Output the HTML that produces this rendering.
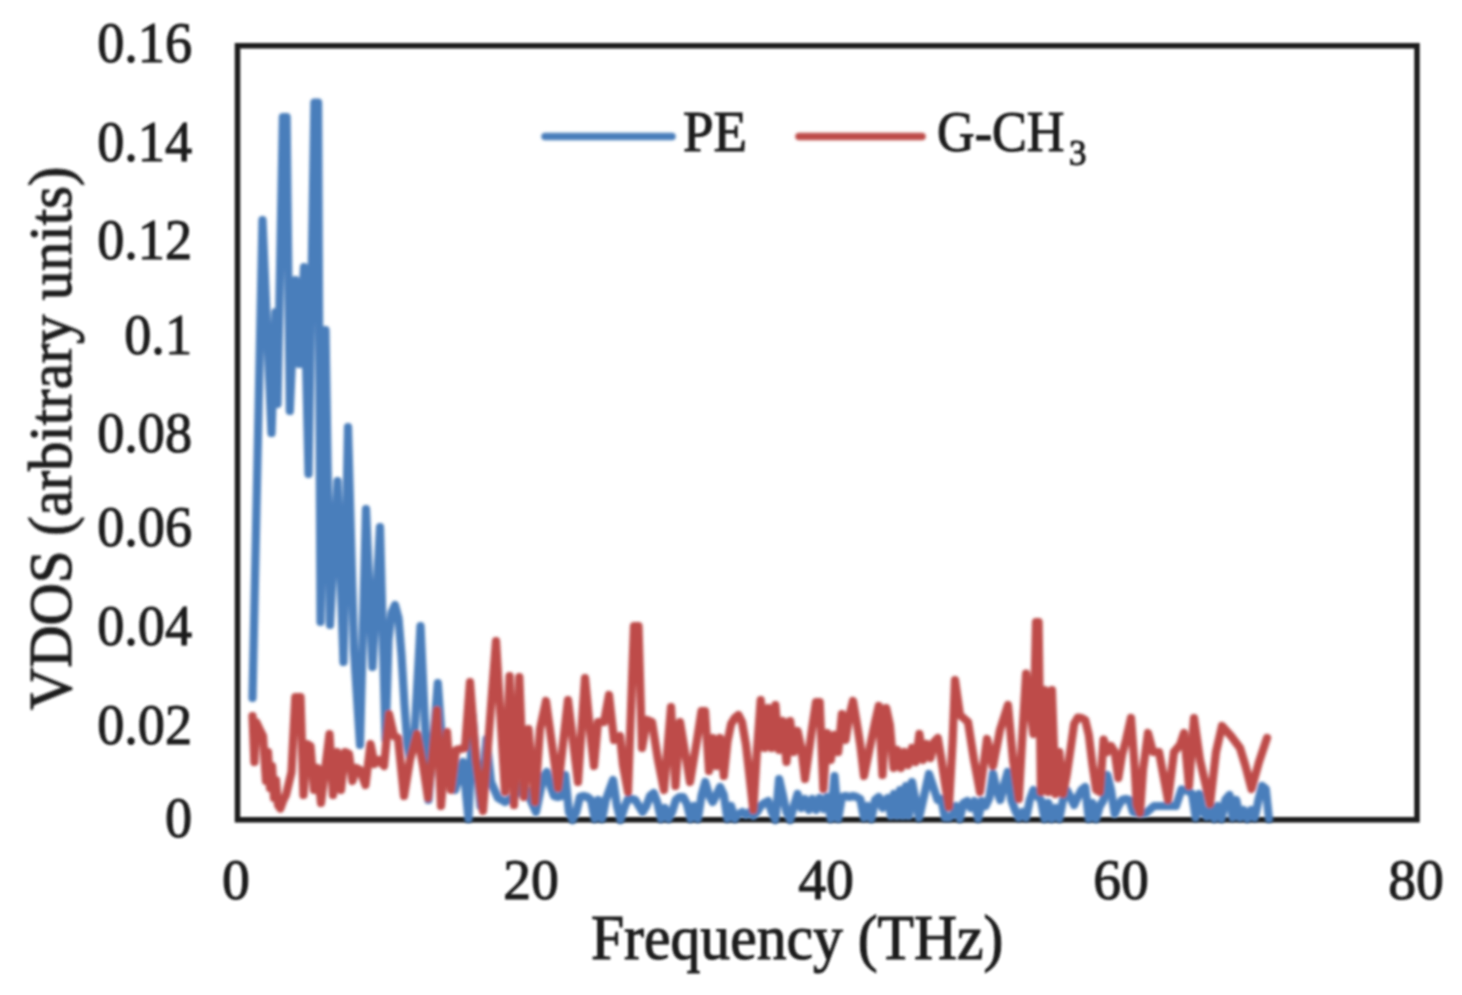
<!DOCTYPE html>
<html><head><meta charset="utf-8"><title>VDOS</title>
<style>
html,body{margin:0;padding:0;background:#fff;}
body{width:1462px;height:995px;overflow:hidden;}
svg{display:block;}
text{font-family:"Liberation Serif",serif;fill:#1c1c1c;stroke:#1c1c1c;stroke-width:1.1px;}
</style></head><body>
<svg width="1462" height="995" viewBox="0 0 1462 995">
<rect x="0" y="0" width="1462" height="995" fill="#ffffff"/>
<defs>
<filter id="fl" filterUnits="userSpaceOnUse" x="0" y="0" width="1462" height="995"><feGaussianBlur stdDeviation="1.6"/></filter>
<filter id="ft" filterUnits="userSpaceOnUse" x="0" y="0" width="1462" height="995"><feGaussianBlur stdDeviation="1.2"/></filter>
</defs>
<g filter="url(#ft)">
<rect x="237.5" y="45.75" width="1179.5" height="774" fill="none" stroke="#1a1a1a" stroke-width="5.5"/>
</g>
<g filter="url(#fl)">
<g fill="none" stroke-linejoin="round" stroke-linecap="round" stroke-width="8.2">
<polyline stroke="#4a7ebb" points="252.5,698 262.5,220 271.5,433 275.5,312 277.5,404 282.9,117 286.6,117 289.8,411 295.5,280 299.5,364 304,267 308.5,474 314.4,102.5 318.1,102.5 320.5,622 325.5,330 330,625 337.5,481 343.5,662 348,427 354,650 360,745 366,509 372.5,667 380,527 385.5,740 388.5,640 391.5,613 395,605 398.5,618 401.5,655 404.5,705 407.5,745 410,758 414.5,735 420.5,626 428.5,800 437.8,683 444,770 455,790 463,762 468.5,819 472.5,715 476.5,765 480.5,806 486.5,739 491,782 498,798 505,802 515,796 523,783 536,812 543.1,778 546.8,772 550.4,786 554.1,796 557.8,797 561.5,796 565.2,775 568.9,812 572.6,820 576.3,812 579.9,797 583.6,796 587.3,797 591,800 594.7,819 598.4,800 602.1,819 605.8,800 609.4,790 613.1,780 616.8,805 620.5,820 624.2,808 627.9,799 631.6,799 635.3,800 638.9,806 642.6,812 646.3,806 650,796 653.7,793 657.4,803 661.1,819 664.8,808 668.4,819 672.1,812 675.8,800 679.5,797 683.2,797 686.9,804 690.6,819 694.3,806 697.9,819 701.6,795 705.3,782 709,795 712.7,802 716.4,795 720.1,787 723.8,795 727.4,819 731.1,806 734.8,819 738.5,814 742.2,812 745.9,815 749.6,812 753.3,816 757,812 760.7,806 764.4,803 768.1,801 771.8,812 775.4,820 779.1,779 782.8,795 786.5,812 790.2,820 793.9,806 797.6,794 801.3,808 805,799 808.7,810 812.3,799 816,810 819.7,798 823.4,809 827.1,797 830.8,819 834.5,776 838.2,819 841.9,797 845.6,796 849.3,797 853,796 856.6,797 860.3,799 864,818 867.7,806 871.4,819 875.1,800 878.8,797 882.5,808 885.5,800 888,798 891,816 894,794 897,816 900,790 903,816 906,786 909,816 912,782 919,818 929,774 937.6,800 941.3,799 945,818 948.7,818 952.4,815 956.1,806 959.8,819 963.4,803 967.1,801 970.8,808 974.5,801 978.2,819 981.9,801 985.6,806 989.3,798 993,773.5 996.7,790 1000.3,800 1004,785 1007.7,772 1011.4,800 1015.1,810 1018.8,818 1022.4,812 1026.1,818 1029.8,800 1033.5,790 1037.2,796 1040.9,800 1044.6,819 1048.3,803 1051.9,819 1055.6,808 1059.3,819 1063,800 1066.7,790 1070.4,797 1074.1,805 1077.8,797 1081.5,790 1085.2,787 1088.8,819 1092.5,803 1096.2,819 1099.9,806 1103.6,800 1107.3,775 1111,790 1114.7,814 1118.3,806 1122,800 1125.7,799 1129.4,800 1133.1,812 1136.8,813 1140.5,814 1146,813 1154,806 1165,806 1176,806 1181.5,789.5 1188.4,791 1192.1,794 1195.7,818 1199.4,794 1203.1,812 1206.8,817 1210.5,808 1214.2,819 1217.9,806 1221.6,819 1225.3,800 1229.5,795 1232.6,818 1236.3,800 1240,818 1243.7,810 1247.4,819 1251.1,810 1254.8,818 1258.4,800 1262.1,786 1265.8,789 1269,819"/>
<polyline stroke="#be4b48" points="252.5,716 254.4,762 256.2,722 259.5,729 263,736 266,781 268,752 270,788 272,766 274,798 276,780 278,805 280.3,808.5 283,801 286,795 291.5,772 295.3,697 300.5,697 303.5,795 307,744 310.5,746 314,790 317.5,768 321,803 325,770 329.5,734 333,795 337,752 341,790 345,752 349,754 352.5,781 356,768 360,770 365.5,785 370.5,744 374.5,764 379,760 384,766 389,714 394,736 398,738 404,796 410,760 417,734 423,765 428,798 437,710 441,806 447,732 451,790 456,750 465,748 470,682 476,760 483,811 496,641 505,792 509.6,676 514,805 519.3,677 524,797 528.5,729 535,802 540,729 546,701 558,788 568,700 578,782 585,678 590,730 594,766 598,722 604,722 609,695 614,740 620,736 623,765 628,792 634,626 638.5,626 642,748 647,720 652,722 658,760 664,790 671,707 675.5,786 680,722 690,782 697,740 701.5,711 705,711 709,771 712.7,738 716.4,766 720.1,738 723.8,776 727.4,742 731.1,724 734.8,718 738.5,715 742,722 746,745 753.3,810 757,750 760.7,700 764.4,748 768.1,708 771.8,748 775.4,705 779.1,750 782.8,721 786.5,762 790.2,721 793.9,752 797.6,731 801.3,748 805,779 808.7,753 812.3,727 816,702 819.7,702 823.4,789 827.1,733 830.8,760 834.5,735 838.2,752 841.9,714 845.6,740 849.3,716 853,701 856.6,722 860.3,745 864,776 867.7,758 871.4,740 875.1,722 878.8,706 882.5,775 886.2,708 889.9,725 893.6,768 897.3,750 901,768 904.6,752 908.3,765 912,748 915.7,762 919.4,734 923.1,760 926.8,744 930.5,758 934.1,742 937.8,738 941.5,760 945.2,785 948.9,807 952.6,742 955,680 960,715 968,722 974,760 980,792 987,739 993,766 1000,730 1008,705 1013,760 1018.8,799 1022.4,735 1026.1,673.5 1029.8,708 1033.5,734 1036,622 1038.6,622 1040.9,792 1044.6,690 1048.3,792 1051.9,690 1055.6,794 1059.3,752 1063,794 1066.7,775 1070.4,750 1074.1,724 1077.8,717.5 1081.5,718 1085.2,720 1088.8,735 1092.5,765 1096.2,790 1099.9,792 1103.6,739.5 1107.3,752 1111,746 1114.7,752 1118.3,778 1122,755 1126,740 1131,718 1134.5,765 1136.8,805 1140,813 1143,770 1148,733 1153,752 1159,752 1168,800 1174,752 1180,745 1184,733 1189,786 1194,718 1200,760 1210,804 1216,752 1222,726 1231,736 1240,748 1245.5,766 1251.5,789 1259,762 1267,738"/>
</g>
<g fill="none" stroke-linecap="round" stroke-width="7.5">
<line x1="545" y1="136.6" x2="672" y2="136.6" stroke="#4a7ebb"/>
<line x1="799" y1="136.6" x2="922" y2="136.6" stroke="#be4b48"/>
</g>
</g>
<g filter="url(#ft)">

<text transform="translate(192,61.8) scale(0.935,1)" font-size="58" text-anchor="end">0.16</text>
<text transform="translate(192,160.55) scale(0.935,1)" font-size="58" text-anchor="end">0.14</text>
<text transform="translate(192,259.2) scale(0.935,1)" font-size="58" text-anchor="end">0.12</text>
<text transform="translate(192,353.7) scale(0.935,1)" font-size="58" text-anchor="end">0.1</text>
<text transform="translate(192,451.8) scale(0.935,1)" font-size="58" text-anchor="end">0.08</text>
<text transform="translate(192,546.1) scale(0.935,1)" font-size="58" text-anchor="end">0.06</text>
<text transform="translate(192,644.8) scale(0.935,1)" font-size="58" text-anchor="end">0.04</text>
<text transform="translate(192,743.5) scale(0.935,1)" font-size="58" text-anchor="end">0.02</text>
<text transform="translate(192,837.4) scale(0.935,1)" font-size="58" text-anchor="end">0</text>
<text transform="translate(236,898.5) scale(0.96,1)" font-size="58" text-anchor="middle">0</text>
<text transform="translate(531,898.5) scale(0.96,1)" font-size="58" text-anchor="middle">20</text>
<text transform="translate(826,898.5) scale(0.96,1)" font-size="58" text-anchor="middle">40</text>
<text transform="translate(1121,898.5) scale(0.96,1)" font-size="58" text-anchor="middle">60</text>
<text transform="translate(1416,898.5) scale(0.96,1)" font-size="58" text-anchor="middle">80</text>
<text transform="translate(797.2,958.7) scale(0.955,1)" font-size="62.5" text-anchor="middle">Frequency (THz)</text>
<text transform="translate(71,438.3) rotate(-90) scale(0.945,1)" font-size="62" text-anchor="middle">VDOS (arbitrary units)</text>
<text transform="translate(683,150.8) scale(0.955,1)" font-size="57.5" text-anchor="start">PE</text>
<text transform="translate(937,150.5) scale(0.9,1)" font-size="58" text-anchor="start">G-CH</text>
<text transform="translate(1069,164.6) scale(1,1)" font-size="35" text-anchor="start" fill="#707070" stroke="#707070" stroke-width="0.4">3</text>
</g>
</svg></body></html>
